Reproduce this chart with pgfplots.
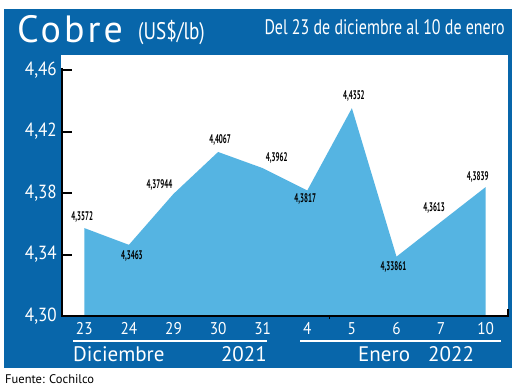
\documentclass[border=0pt]{standalone}
\usepackage{pgfplots}
\pgfplotsset{compat=1.18}
\usepackage{pgfplotstable}
\usepackage{fontspec}
\setmainfont{PT Sans}
\newfontfamily\titlefont[LetterSpace=8]{PT Sans}
\newfontfamily\lblfont[FakeStretch=0.56]{PT Sans}
\newfontfamily\condfont[FakeStretch=0.8]{PT Sans}
\newfontfamily\hdrfont[FakeStretch=0.76]{PT Sans}
\newfontfamily\tickfont[FakeStretch=0.9]{PT Sans}
\definecolor{framebl}{RGB}{8,102,170}
\definecolor{areablue}{RGB}{85,180,226}

\pgfplotstableread{
x y lbl dx dy
0 4.3572 4,3572 -2 11
1 4.3463 4,3463 3 -11
2 4.37944 4,37944 -14 9
3 4.4067 4,4067 2 12
4 4.3962 4,3962 14 10
5 4.3817 4,3817 -2 -9
6 4.4352 4,4352 2 12
7 4.33861 4,33861 -3 -10
8 4.3613 4,3613 -7 14
9 4.3839 4,3839 -8 10
}\datatable

\begin{document}
\begin{tikzpicture}[x=1pt,y=1pt]
\useasboundingbox (0,0) rectangle (520,390);
\fill[framebl] (4,22) rectangle (512,381);
\fill[white] (61,74) rectangle (508,335);
\node[anchor=base west, text=white, inner sep=0, font=\titlefont\fontsize{38}{38}\selectfont] at (17,347) {Cobre};
\node[anchor=base west, text=white, inner sep=0, font=\condfont\fontsize{24}{24}\selectfont] at (138,350) {(US\$/lb)};
\node[anchor=base east, text=white, inner sep=0, font=\hdrfont\fontsize{21}{21}\selectfont] at (505,355) {Del 23 de diciembre al 10 de enero};

\begin{axis}[
  at={(62pt,74pt)}, anchor=south west,
  scale only axis, width=446pt, height=261pt,
  xmin=-0.5, xmax=9.5, ymin=4.30, ymax=4.4698,
  axis x line*=bottom, axis y line*=left,
  axis line style={draw=none},
  xtick={0,...,9},
  xticklabels={23,24,29,30,31,4,5,6,7,10},
  ytick={4.30,4.34,4.38,4.42,4.46},
  yticklabels={{4,30},{4,34},{4,38},{4,42},{4,46}},
  tick align=inside,
  major tick length=10pt,
  ytick style={black, line width=2pt},
  xtick style={draw=none},
  yticklabel style={text=white, inner sep=0pt, anchor=east, xshift=-5pt, font=\tickfont\fontsize{19}{19}\selectfont},
  xticklabel style={text=white, inner sep=0pt, anchor=base, yshift=-19pt, font=\tickfont\fontsize{17}{17}\selectfont},
]
\addplot[fill=areablue, draw=none] table[x=x, y=y] {\datatable} \closedcycle;
\addplot[draw=none, mark=none,
  point meta=explicit symbolic,
  visualization depends on={\thisrow{dx} \as \dx},
  visualization depends on={\thisrow{dy} \as \dy},
  nodes near coords,
  nodes near coords style={anchor=center, inner sep=0pt, xshift=\dx pt, yshift=\dy pt, text=black, font=\lblfont\bfseries\fontsize{12.5}{12.5}\selectfont},
] table[x=x, y=y, meta=lbl] {\datatable};
\end{axis}

\draw[black, line width=2pt] (62,322) -- (62,74);
\draw[black, line width=2pt] (61,74) -- (508,74) -- (508,81);
\draw[black, line width=1pt] (329,74) -- (329,71);
\draw[white, line width=1.3pt] (73,49) -- (267,49);
\draw[white, line width=1.3pt] (300,49) -- (501,49);
\node[anchor=base west, text=white, inner sep=0, font=\fontsize{21}{21}\selectfont] at (73,28) {Diciembre};
\node[anchor=base east, text=white, inner sep=0, font=\fontsize{21}{21}\selectfont] at (267,28) {2021};
\node[anchor=base west, text=white, inner sep=0, font=\fontsize{21}{21}\selectfont] at (358,28) {Enero};
\node[anchor=base west, text=white, inner sep=0, font=\fontsize{21}{21}\selectfont] at (428,28) {2022};
\node[anchor=base west, text=black, inner sep=0, font=\fontsize{12.5}{12.5}\selectfont] at (5,6) {Fuente: Cochilco};
\end{tikzpicture}
\end{document}
